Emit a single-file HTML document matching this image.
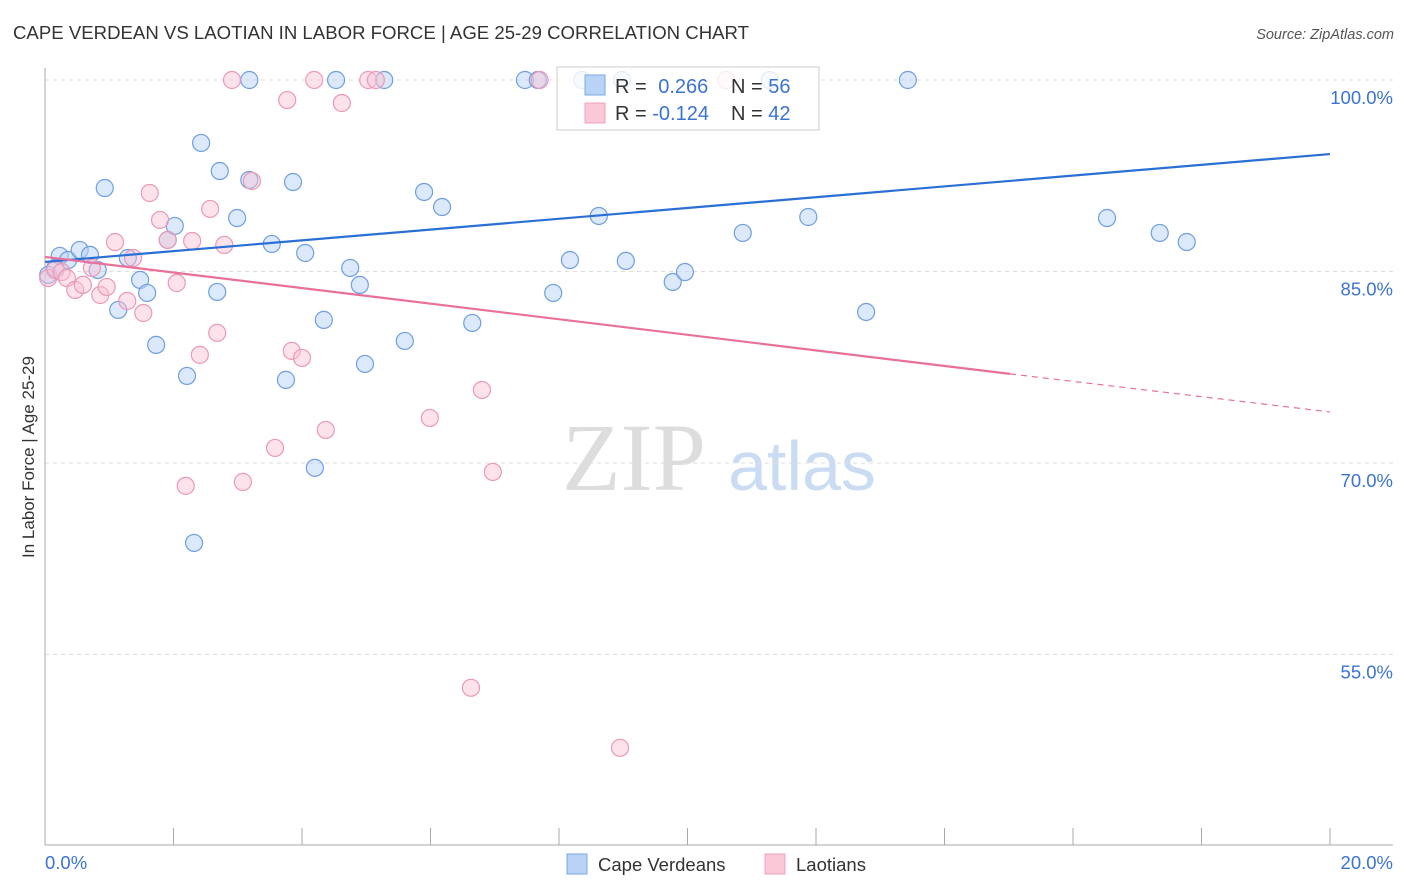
<!DOCTYPE html>
<html><head><meta charset="utf-8"><style>
body{margin:0;background:#fff;font-family:"Liberation Sans",sans-serif;}
svg{display:block}
</style></head><body>
<svg id="chart" width="1406" height="892" xmlns="http://www.w3.org/2000/svg">
<text x="13" y="39" font-size="18" fill="#333" textLength="736" lengthAdjust="spacingAndGlyphs">CAPE VERDEAN VS LAOTIAN IN LABOR FORCE | AGE 25-29 CORRELATION CHART</text>
<text x="1394" y="39" font-size="14.5" fill="#555" text-anchor="end" font-style="italic">Source: ZipAtlas.com</text>
<g>
<text x="634" y="490" font-size="96" font-family="Liberation Serif,serif" fill="#ddd" text-anchor="middle">ZIP</text>
<text x="802" y="490" font-size="70" fill="#c9dcf2" text-anchor="middle">atlas</text>
</g>
<g id="grid"></g>
<g id="axes"></g>
<g id="pts"></g>
<g id="lines"></g>
<text transform="translate(34,457) rotate(-90)" font-size="17" fill="#333" text-anchor="middle">In Labor Force | Age 25-29</text>
<g>
<rect x="557" y="67" width="262" height="63" fill="#fff" fill-opacity="0.8" stroke="#ccc"/>
<rect x="585" y="75" width="20" height="20" fill="#b8d3f5" stroke="#7aaae6"/>
<rect x="585" y="103" width="20" height="20" fill="#fbc8d8" stroke="#f0a0bc"/>
<text x="615" y="93" font-size="20" fill="#333">R = <tspan fill="#3b74d0" dx="6">0.266</tspan></text>
<text x="731" y="93" font-size="20" fill="#333">N = <tspan fill="#3b74d0">56</tspan></text>
<text x="615" y="120" font-size="20" fill="#333">R = <tspan fill="#3b74d0">-0.124</tspan></text>
<text x="731" y="120" font-size="20" fill="#333">N = <tspan fill="#3b74d0">42</tspan></text>
</g>
<g>
<rect x="567" y="854" width="20" height="20" fill="#b8d3f5" stroke="#7aaae6"/>
<text x="598" y="871" font-size="18.5" fill="#333">Cape Verdeans</text>
<rect x="765" y="854" width="20" height="20" fill="#fbc8d8" stroke="#f0a0bc"/>
<text x="796" y="871" font-size="18.5" fill="#333">Laotians</text>
</g>
</svg>
<script>
const blueX=[0.05,0.23,0.36,0.54,0.70,0.82,0.93,1.14,1.29,1.48,1.59,1.73,1.91,2.02,2.21,2.32,2.43,2.68,2.72,2.99,3.18,3.18,3.53,3.75,3.86,4.05,4.20,4.34,4.53,4.75,4.90,4.98,5.28,5.60,5.90,6.18,6.65,7.47,7.67,7.91,8.17,8.36,8.62,9.04,9.77,9.96,10.86,11.88,12.78,13.43,16.53,17.35,17.77,11.28,8.98,0.16];
const blueY=[84.73,86.22,85.90,86.69,86.30,85.12,91.54,81.99,86.06,84.34,83.32,79.25,87.47,88.57,76.82,63.74,95.07,83.40,92.87,89.19,100,92.17,87.16,76.51,92.01,86.45,69.62,81.21,100,85.28,83.95,77.76,100,79.56,91.23,90.05,80.97,100,100,83.32,85.90,100,89.35,85.83,84.18,84.96,88.02,89.27,81.83,100,89.19,88.02,87.31,100,100,85.28];
const pinkX=[0.05,0.16,0.26,0.34,0.47,0.59,0.73,0.86,0.96,1.09,1.28,1.37,1.53,1.63,1.79,1.91,2.05,2.19,2.29,2.41,2.57,2.68,2.79,2.91,3.08,3.22,3.58,3.77,3.84,4.00,4.19,4.37,4.62,5.03,5.15,5.99,6.63,6.80,6.97,7.70,8.95,10.60];
const pinkY=[84.49,85.12,84.96,84.49,83.56,83.95,85.28,83.16,83.79,87.31,82.69,86.06,81.75,91.15,89.04,87.47,84.10,68.21,87.39,78.47,89.90,80.19,87.08,100,68.52,92.09,71.18,98.43,78.78,78.23,100,72.59,98.20,100,100,73.53,52.39,75.72,69.30,100,47.69,100];
const blueTrend=[85.75,94.2];
const pinkTrend=[86.14,76.98,74.0];
const yTicks=[100,85,70,55];
const yTickLabels=["100.0%","85.0%","70.0%","55.0%"];
const NS="http://www.w3.org/2000/svg";
const X0=45,X1=1330,YTOP=80,PXPER=191.5/15;
const sx=v=>X0+(v/20)*(X1-X0);
const sy=v=>YTOP+(100-v)*PXPER;
function mk(tag,attrs,parent){const e=document.createElementNS(NS,tag);for(const k in attrs)e.setAttribute(k,attrs[k]);document.getElementById(parent).appendChild(e);return e;}
yTicks.forEach((t,i)=>{
 const l=mk('line',{x1:X0,x2:1393,y1:sy(t),y2:sy(t),stroke:'#ddd','stroke-dasharray':'4,4'},'grid');
 
 
 const tx=mk('text',{x:1393,y:sy(t)+24,'font-size':18.5,fill:'#3b74d0','text-anchor':'end'},'grid');
 tx.textContent=yTickLabels[i];
 
 
});
const ya=mk('line',{x1:X0,x2:X0,y1:68,y2:845,stroke:'#aaa'},'axes');


const xa=mk('line',{x1:X0,x2:1393,y1:845,y2:845,stroke:'#aaa'},'axes');


for(let i=1;i<=10;i++){const t=mk('line',{x1:sx(i*2),x2:sx(i*2),y1:828,y2:845,stroke:'#aaa'},'axes');
 
 }
const xl0=mk('text',{x:45,y:869,'font-size':18.5,fill:'#3b74d0'},'axes');xl0.textContent='0.0%';


const xl1=mk('text',{x:1393,y:869,'font-size':18.5,fill:'#3b74d0','text-anchor':'end'},'axes');xl1.textContent='20.0%';


blueX.forEach((x,i)=>{const c=mk('circle',{cx:sx(x),cy:sy(blueY[i]),r:8.5,fill:'#b8d3f5','fill-opacity':0.5,stroke:'#6f9fe0','stroke-width':1.2},'pts');
 
 });
pinkX.forEach((x,i)=>{const c=mk('circle',{cx:sx(x),cy:sy(pinkY[i]),r:8.5,fill:'#f8c0d3','fill-opacity':0.45,stroke:'#ec98b6','stroke-width':1.2},'pts');
 
 });
const bl=mk('line',{x1:sx(0),y1:sy(blueTrend[0]),x2:sx(20),y2:sy(blueTrend[1]),stroke:'#2a6fd6','stroke-width':2.2},'lines');


const pl=mk('line',{x1:sx(0),y1:sy(pinkTrend[0]),x2:sx(15.02),y2:sy(pinkTrend[1]),stroke:'#e8709a','stroke-width':2.2},'lines');


const pd=mk('line',{x1:sx(15.02),y1:sy(pinkTrend[1]),x2:sx(20),y2:sy(pinkTrend[2]),stroke:'#e8709a','stroke-width':1.2,'stroke-dasharray':'6,5'},'lines');


</script>
</body></html>
